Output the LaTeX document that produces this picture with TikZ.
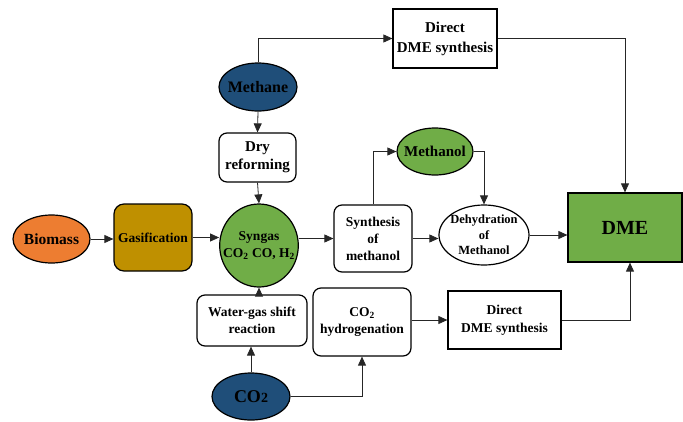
\documentclass[tikz,border=0pt]{standalone}
\usepackage{fontspec}
\setmainfont{Liberation Serif}
\usepackage{xcolor}
\definecolor{deepblue}{RGB}{31,78,121}
\definecolor{leafgreen}{RGB}{112,173,71}
\definecolor{burntorange}{RGB}{237,125,49}
\definecolor{darkgold}{RGB}{191,144,0}
\newcommand{\setfs}[2]{\fontsize{#1}{#2}\selectfont}
\usepackage{tikz}
\usetikzlibrary{arrows.meta, shapes.geometric}

\begin{document}
\begin{tikzpicture}[x=1pt, y=-1pt,
  pnode/.style={draw=black, line width=1.2pt, rounded corners=8pt, fill=white, align=center, font=\setfs{13.5}{17}\bfseries, inner sep=0pt},
  rnode/.style={draw=black, line width=1.2pt, fill=white, align=center, font=\setfs{13.5}{18}\bfseries, inner sep=0pt},
  enode/.style={ellipse, draw=black, line width=1.2pt, align=center, font=\setfs{13.5}{17}\bfseries, inner xsep=-8pt, inner ysep=-1pt},
  flow/.style={-{Triangle[length=9pt, width=8pt]}, black!85, line width=0.8pt}
]
\useasboundingbox (0,0) rectangle (683,421);
\node[rnode, minimum width=104pt, minimum height=59pt, font=\setfs{15}{20}\bfseries] (topdme) at (445,38.5) {Direct\\DME synthesis};
\node[enode, fill=deepblue, minimum width=78pt, minimum height=48pt, font=\setfs{16}{18}\bfseries] (methane) at (258,87) {Methane};
\node[pnode, minimum width=77pt, minimum height=49pt, font=\setfs{15}{18}\bfseries] (dry) at (257.5,157.5) {Dry\\reforming};
\node[enode, fill=leafgreen, minimum width=78pt, minimum height=83pt] (syngas) at (259,245.5) {Syngas\\CO\textsubscript{2} CO, H\textsubscript{2}};
\node[enode, fill=burntorange, minimum width=77pt, minimum height=48pt, font=\setfs{15.5}{18}\bfseries] (biomass) at (51.5,239) {Biomass};
\node[pnode, fill=darkgold, rounded corners=10pt, minimum width=78pt, minimum height=67pt, font=\setfs{13.5}{16}\bfseries] (gasif) at (153,237.5) {Gasification};
\node[pnode, minimum width=110pt, minimum height=51pt] (wgs) at (252,320.5) {Water-gas shift\\reaction};
\node[enode, fill=deepblue, minimum width=78pt, minimum height=47pt, font=\setfs{18}{20}\bfseries] (co2) at (251,396.5) {CO{\setfs{14}{16}2}};
\node[pnode, minimum width=78pt, minimum height=67pt] (synth) at (373,238.5) {Synthesis\\of\\methanol};
\node[enode, fill=white, minimum width=90pt, minimum height=60pt, font=\setfs{12.5}{15.5}\bfseries] (dehyd) at (484,235) {Dehydration\\of\\Methanol};
\node[enode, fill=leafgreen, minimum width=76pt, minimum height=47pt, font=\setfs{15}{17}\bfseries] (methanol) at (435,151.5) {Methanol};
\node[rnode, fill=leafgreen, minimum width=114pt, minimum height=69pt, font=\setfs{20}{22}\bfseries] (dme) at (625,227.5) {DME};
\node[pnode, minimum width=98pt, minimum height=68pt] (co2h) at (362,322) {CO\textsubscript{2}\\hydrogenation};
\node[rnode, minimum width=113pt, minimum height=58pt] (lowdme) at (504.5,320) {Direct\\DME synthesis};
\draw[flow] (methane.north) |- (topdme.west);
\draw[flow] (topdme.east) -| (dme.north);
\draw[flow] (methane.south) -- (dry.north);
\draw[flow] (dry.south) -- (syngas.north);
\draw[flow] (biomass.east) -- (biomass.east -| gasif.west);
\draw[flow] (gasif.east) -- (gasif.east -| syngas.west);
\draw[flow] (syngas.east |- synth.west) -- (synth.west);
\draw[flow] (synth.east) -- (synth.east -| dehyd.west);
\draw[flow] (dehyd.east) -- (dehyd.east -| dme.west);
\draw[flow] (synth.north) |- (methanol.west);
\draw[flow] (methanol.east) -| (dehyd.north);
\draw[flow] (wgs.north -| syngas.south) -- (syngas.south);
\draw[flow] (co2.north) -- (wgs.south -| co2.north);
\draw[flow] (co2.east) -| (co2h.south);
\draw[flow] (lowdme.west -| co2h.east) -- (lowdme.west);
\draw[flow] (lowdme.east) -| ([xshift=5pt]dme.south);
\end{tikzpicture}
\end{document}
